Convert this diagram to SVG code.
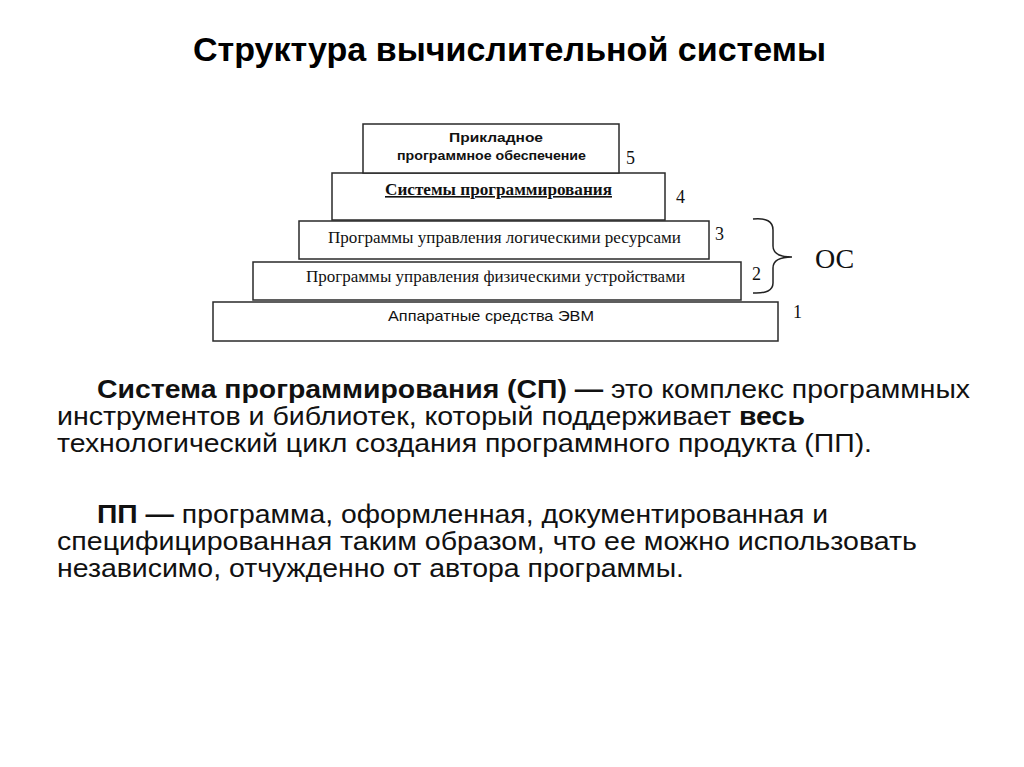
<svg xmlns="http://www.w3.org/2000/svg" width="1024" height="767" viewBox="0 0 1024 767">
<style>
.box{fill:#fff;stroke:#2a2a2a;stroke-width:1.5}
.sans{font-family:"Liberation Sans",Arial,sans-serif}
.serif{font-family:"Liberation Serif","Times New Roman",serif}
.num{font-family:"Liberation Serif","Times New Roman",serif;font-size:18px;fill:#111}
.body{font-family:"Liberation Sans",Arial,sans-serif;font-size:25px;fill:#111}
</style>
<rect width="1024" height="767" fill="#fff"/>
<text x="193" y="61" class="sans" font-size="34" font-weight="bold" fill="#000" textLength="633" lengthAdjust="spacingAndGlyphs">Структура вычислительной системы</text>

<g id="layer1">
<rect class="box" x="213" y="302" width="565" height="39"/>
<text x="388" y="321" class="sans" font-size="15" fill="#111" textLength="206" lengthAdjust="spacingAndGlyphs">Аппаратные средства ЭВМ</text>
</g>
<g id="layer2">
<rect class="box" x="253" y="262" width="488" height="38"/>
<text x="306" y="282" class="serif" font-size="16" fill="#111" textLength="379" lengthAdjust="spacingAndGlyphs">Программы управления физическими устройствами</text>
</g>
<g id="layer3">
<rect class="box" x="299" y="221" width="410" height="38"/>
<text x="328" y="243" class="serif" font-size="16" fill="#111" textLength="353" lengthAdjust="spacingAndGlyphs">Программы управления логическими ресурсами</text>
</g>
<g id="layer4">
<rect class="box" x="332" y="173" width="333" height="47"/>
<text x="385" y="195" class="serif" font-size="16" font-weight="bold" text-decoration="underline" fill="#111" textLength="227" lengthAdjust="spacingAndGlyphs">Системы программирования</text>
</g>
<g id="layer5">
<rect class="box" x="363" y="124" width="256" height="49"/>
<text x="449" y="142" class="sans" font-size="13.5" font-weight="bold" fill="#111" textLength="94" lengthAdjust="spacingAndGlyphs">Прикладное</text>
<text x="397" y="160" class="sans" font-size="13.5" font-weight="bold" fill="#111" textLength="189" lengthAdjust="spacingAndGlyphs">программное обеспечение</text>
</g>

<g id="numbers">
<text x="626" y="164" class="num">5</text>
<text x="676" y="203" class="num">4</text>
<text x="715" y="240" class="num">3</text>
<text x="752" y="280" class="num">2</text>
<text x="793" y="318" class="num">1</text>
</g>

<g id="connectors">
<path d="M753,219 Q773,217 773,230 L773,246 Q773,257 792,257 Q773,257 773,268 L773,283 Q773,294 753,293" fill="none" stroke="#222" stroke-width="1.5"/>
</g>
<g id="os">
<text x="815" y="268" class="serif" font-size="28" fill="#111">ОС</text>
</g>

<g id="paragraph1">
<text x="97" y="398" class="body" textLength="873" lengthAdjust="spacingAndGlyphs"><tspan font-weight="bold">Система программирования (СП) —</tspan> это комплекс программных</text>
<text x="57" y="425" class="body" textLength="748" lengthAdjust="spacingAndGlyphs">инструментов и библиотек, который поддерживает <tspan font-weight="bold">весь</tspan></text>
<text x="57" y="452" class="body" textLength="815" lengthAdjust="spacingAndGlyphs">технологический цикл создания программного продукта (ПП).</text>
</g>
<g id="paragraph2">
<text x="97" y="523" class="body" textLength="731" lengthAdjust="spacingAndGlyphs"><tspan font-weight="bold">ПП —</tspan> программа, оформленная, документированная и</text>
<text x="57" y="550" class="body" textLength="860" lengthAdjust="spacingAndGlyphs">специфицированная таким образом, что ее можно использовать</text>
<text x="57" y="577" class="body" textLength="627" lengthAdjust="spacingAndGlyphs">независимо, отчужденно от автора программы.</text>
</g>
</svg>
